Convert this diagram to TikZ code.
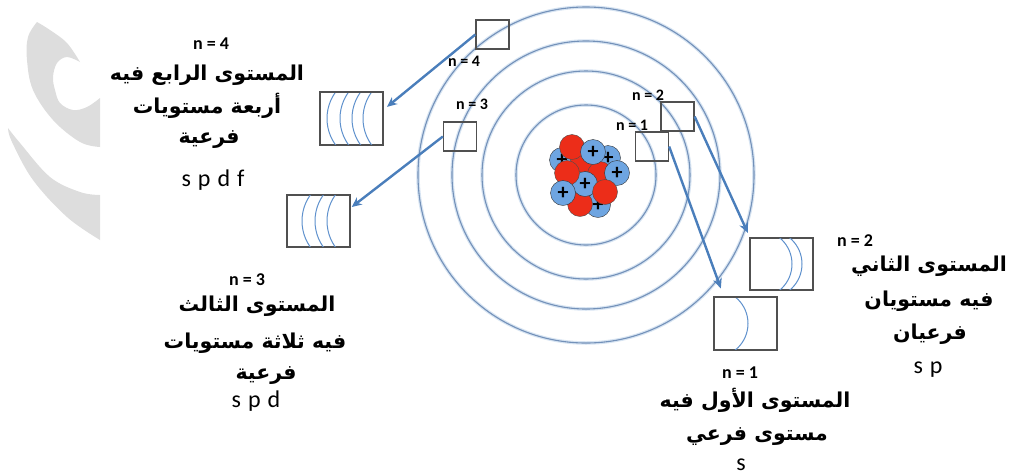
\documentclass[tikz,border=0pt]{standalone}
\usepackage{fontspec}
\setmainfont{Carlito}
\newfontfamily\arabicfont[Script=Arabic]{DejaVu Sans}
\TeXXeTstate=1
\usetikzlibrary{arrows.meta}
\definecolor{ringblue}{RGB}{115,145,185}
\definecolor{ringglow}{RGB}{215,228,242}
\definecolor{arrowblue}{RGB}{74,126,187}
\definecolor{arcblue}{RGB}{95,145,205}
\definecolor{boxgray}{RGB}{80,80,80}
\definecolor{protonblue}{RGB}{110,165,225}
\definecolor{neutronred}{RGB}{236,45,25}
\definecolor{markgray}{RGB}{221,221,221}
\newcommand{\artext}[1]{{\arabicfont\bfseries\beginR #1\endR}}
\newcommand{\orbgap}{\hspace{7pt}}

\begin{document}
\begin{tikzpicture}[
	x=1pt, y=-1pt,
	ring/.style={draw=ringblue, line width=1.1pt},
	glow/.style={draw=ringglow, line width=3.5pt},
	zoombox/.style={draw=boxgray, line width=1.3pt, minimum width=33pt, minimum height=29pt, inner sep=0pt},
	bigbox/.style={draw=boxgray, line width=1.3pt, fill=white, minimum width=62pt, minimum height=52pt, inner sep=0pt},
	sublevel/.style={draw=arcblue, line width=1pt},
	link/.style={draw=arrowblue, line width=2.4pt, -{Stealth[length=10pt,width=9pt]}},
	proton/.style={circle, draw=black!80, fill=protonblue, minimum size=25pt, inner sep=0pt, font=\fontsize{22}{22}\selectfont\bfseries},
	neutron/.style={circle, draw=black!70, fill=neutronred, minimum size=25pt, inner sep=0pt},
	tag/.style={font=\fontsize{16}{16}\selectfont\bfseries},
	head/.style={font=\fontsize{18}{18}\selectfont\bfseries},
	artxt/.style={font=\fontsize{20.5}{20.5}\selectfont},
	orbs/.style={font=\fontsize{24}{24}\selectfont}
	]
	
	\useasboundingbox (0,0) rectangle (1013,475);
	
	% watermark
	\fill[markgray] (37,22) -- plot[smooth, tension=0.6] coordinates {(37,22) (50,30) (67,43) (80,62)}
		-- plot[smooth, tension=0.6] coordinates {(80,62) (67,57) (57,63) (53,77) (55,90) (60,103) (73,110) (87,107) (100,98)}
		-- (100,147)
		-- plot[smooth, tension=0.6] coordinates {(100,147) (80,142) (53,120) (33,90) (27,60) (28,37) (37,22)} -- cycle;
	\fill[markgray] (8,128) -- plot[smooth, tension=0.6] coordinates {(8,128) (20,143) (50,177) (80,192) (100,195)}
		-- (100,240)
		-- plot[smooth, tension=0.6] coordinates {(100,240) (67,217) (33,180) (12,142) (8,128)} -- cycle;
	
	% energy levels
	\coordinate (core) at (586,175);
	\foreach \r in {70,104,134,168} {
		\draw[glow] (core) circle[radius=\r];
		\draw[ring] (core) circle[radius=\r];
	}
	
	% small windows on the rings
	\node[zoombox] (w4) at (492.5,34.5) {};
	\node[zoombox] (w3) at (460,136.5) {};
	\node[zoombox] (w2) at (677.5,116.5) {};
	\node[zoombox] (w1) at (652,146.5) {};
	\node[tag] (t4) at (464,61) {n = 4};
	\node[tag] (t3) at (472,104) {n = 3};
	\node[tag] (t2) at (648,95) {n = 2};
	\node[tag] (t1) at (632,125) {n = 1};
	
	% nucleus
	\node[proton] (pa) at (562,160) {+};
	\node[proton] (pb) at (608,158) {+};
	\node[proton] (pc) at (598,205) {+};
	\node[neutron] (na) at (583,160) {};
	\node[neutron] (nb) at (600,174) {};
	\node[neutron] (nc) at (580,204) {};
	\node[proton] (pd) at (585,184) {+};
	\node[neutron] (nd) at (572,147) {};
	\node[proton] (pe) at (593,152) {+};
	\node[neutron] (ne) at (567,173) {};
	\node[proton] (pf) at (617,173) {+};
	\node[proton] (pg) at (563,193) {+};
	\node[neutron] (nf) at (605,192) {};
	
	% magnified boxes
	\node[bigbox] (b4) at (351.5,118.5) {};
	\node[bigbox] (b3) at (318.5,221) {};
	\node[bigbox] (b2) at (781.5,264) {};
	\node[bigbox] (b1) at (745.5,323.5) {};
	
	\begin{scope}
		\clip (b4.south west) rectangle (b4.north east);
		\foreach \x in {327,340,352,363}
			\draw[sublevel] (\x+45,118.5) circle[radius=45];
	\end{scope}
	\begin{scope}
		\clip (b3.south west) rectangle (b3.north east);
		\foreach \x in {302,315,327}
			\draw[sublevel] (\x+45,221) circle[radius=45];
	\end{scope}
	\begin{scope}
		\clip (b2.south west) rectangle (b2.north east);
		\foreach \x in {792,802}
			\draw[sublevel] (\x-34,264) circle[radius=34];
	\end{scope}
	\begin{scope}
		\clip (b1.south west) rectangle (b1.north east);
		\draw[sublevel] (748-34,323.5) circle[radius=34];
	\end{scope}
	\draw[boxgray, line width=1.3pt] (b4.south west) rectangle (b4.north east);
	\draw[boxgray, line width=1.3pt] (b3.south west) rectangle (b3.north east);
	\draw[boxgray, line width=1.3pt] (b2.south west) rectangle (b2.north east);
	\draw[boxgray, line width=1.3pt] (b1.south west) rectangle (b1.north east);
	
	% arrows
	\draw[link, shorten >=5pt] (w4.west) -- (b4.15);
	\draw[link, shorten >=2pt] (w3.west) -- (b3.22);
	\draw[link, shorten >=9pt] (w1.east) -- (b1.129);
	\draw[link, shorten >=5pt] (w2.east) -- (b2.north west);
	
	% n = 4
	\node[head] (h4) at (211,44) {n = 4};
	\node[artxt] (a4a) at (207,75) {\artext{المستوى الرابع فيه}};
	\node[artxt] (a4b) at (207,106) {\artext{أربعة مستويات}};
	\node[artxt] (a4c) at (209,140) {\artext{فرعية}};
	\node[orbs] (o4) at (213,180) {s\orbgap p\orbgap d\orbgap f};
	
	% n = 3
	\node[head] (h3) at (247,280) {n = 3};
	\node[artxt] (a3a) at (257,306) {\artext{المستوى الثالث}};
	\node[artxt] (a3b) at (255,343) {\artext{فيه ثلاثة مستويات}};
	\node[artxt] (a3c) at (266,376) {\artext{فرعية}};
	\node[orbs] (o3) at (256,401) {s\orbgap p\orbgap d};
	
	% n = 2
	\node[head] (h2) at (855,241) {n = 2};
	\node[artxt] (a2a) at (929,266) {\artext{المستوى الثاني}};
	\node[artxt] (a2b) at (929,301) {\artext{فيه مستويان}};
	\node[artxt] (a2c) at (930,334) {\artext{فرعيان}};
	\node[orbs] (o2) at (928,370) {s\orbgap p};
	
	% n = 1
	\node[head] (h1) at (740,373) {n = 1};
	\node[artxt] (a1a) at (755,400) {\artext{المستوى الأول فيه}};
	\node[artxt] (a1b) at (757,437) {\artext{مستوى فرعي}};
	\node[orbs] (o1) at (741,465) {s};
	
\end{tikzpicture}
\end{document}
